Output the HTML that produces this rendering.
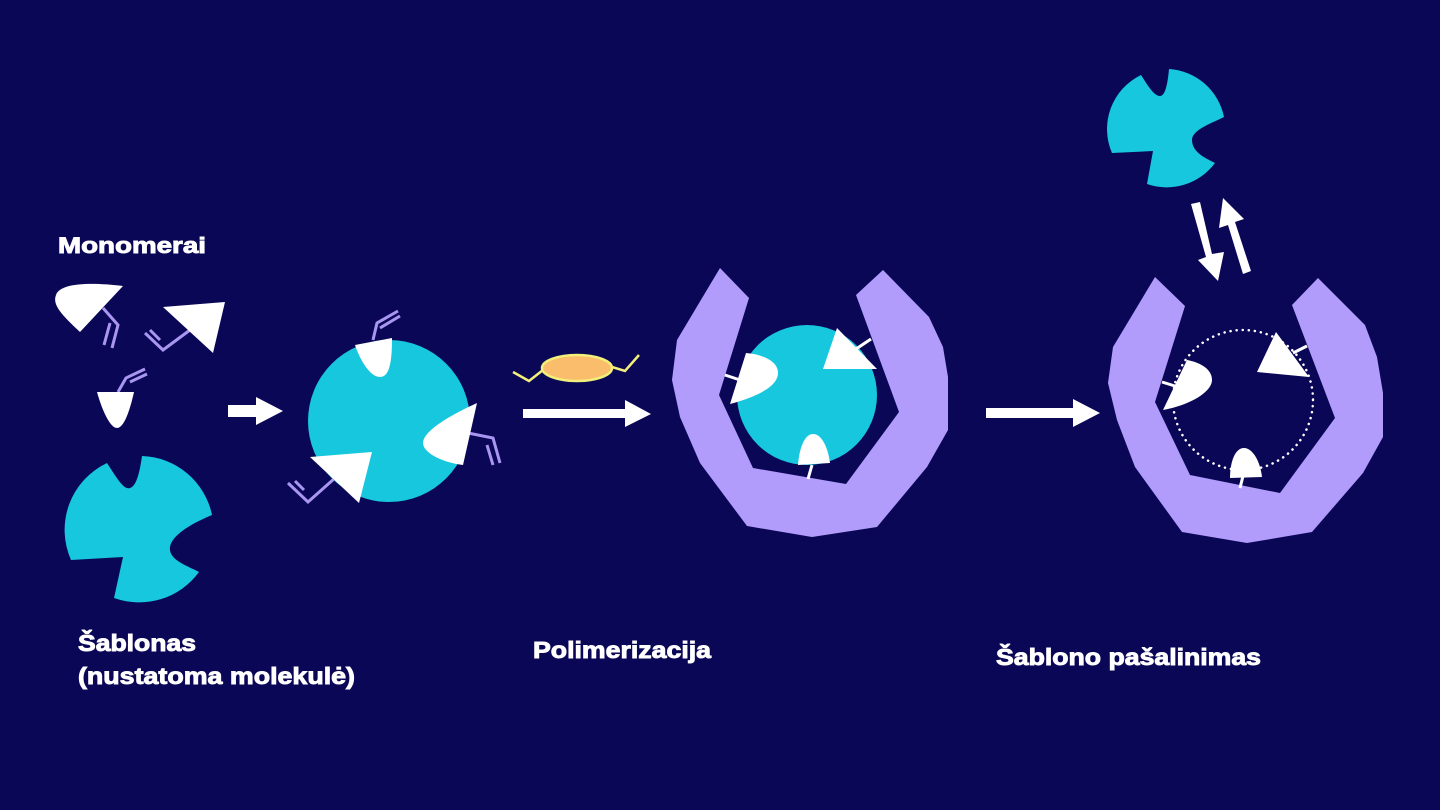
<!DOCTYPE html>
<html><head><meta charset="utf-8"><style>
html,body{margin:0;padding:0;background:#0b0757;}
svg{display:block}
text{font-family:"Liberation Sans",sans-serif;font-weight:bold;fill:#fff;stroke:#fff;stroke-width:0.9;}
</style></head><body>
<svg width="1440" height="810" viewBox="0 0 1440 810" xmlns="http://www.w3.org/2000/svg">
<rect width="1440" height="810" fill="#0b0757"/>

<!-- Labels -->
<text x="58" y="253" font-size="22" textLength="148" lengthAdjust="spacingAndGlyphs">Monomerai</text>
<text x="78" y="651" font-size="23" textLength="118" lengthAdjust="spacingAndGlyphs">Šablonas</text>
<text x="78" y="684" font-size="23" textLength="277" lengthAdjust="spacingAndGlyphs">(nustatoma molekulė)</text>
<text x="533" y="658" font-size="23" textLength="178" lengthAdjust="spacingAndGlyphs">Polimerizacija</text>
<text x="996" y="665" font-size="23" textLength="265" lengthAdjust="spacingAndGlyphs">Šablono pašalinimas</text>

<!-- Template 1 -->
<path d="M107,463 C118,480 124,490 130,488 C137,486 140,470 142,456 A74,74 0 0 1 212,515 C195,522 172,534 170,547 C168,560 188,566 199,572 A74,74 0 0 1 114,598 L123,557 L71,560 A74,74 0 0 1 107,463 Z" fill="#17c7de"/>

<!-- Monomers -->
<g fill="none" stroke="#a996f0" stroke-width="3">
<path d="M103,308 L118,325 L112,348 M110,323 L104,345"/>
<path d="M190,330 L163,350 L145,333 M160,340 L150,330"/>
<path d="M118,392 L126,378 L145,369 M130,382 L147,374"/>
</g>
<path d="M123,286 L80,332 C62,315 52,305 56,295 C60,283 90,282 123,286 Z" fill="#fff"/>
<path d="M163,307 L225,302 L213,353 Z" fill="#fff"/>
<path d="M97,392 L134,392 C130,410 124,428 117,428 C110,428 102,410 97,392 Z" fill="#fff"/>

<!-- Arrow 1 -->
<path d="M228,405 L256,405 L256,397 L283,411 L256,425 L256,417 L228,417 Z" fill="#fff"/>

<!-- Step 2 -->
<circle cx="389" cy="421" r="81" fill="#17c7de"/>
<g fill="none" stroke="#a996f0" stroke-width="3">
<path d="M373,340 L377,323 L398,311 M380,328 L400,316"/>
<path d="M468,433 L493,438 L500,463 M487,445 L493,465"/>
<path d="M335,478 L308,502 L288,483 M304,490 L295,481"/>
</g>
<path d="M355,345 L392,338 C392,360 390,377 380,377 C370,377 360,360 355,345 Z" fill="#fff"/>
<path d="M477,403 L463,465 C440,462 423,452 423,443 C423,430 455,413 477,403 Z" fill="#fff"/>
<path d="M310,457 L372,452 L359,503 Z" fill="#fff"/>

<!-- Oval + Arrow 2 -->
<path d="M513,372 L529,381 L543,370 M612,367 L625,371 L639,355" fill="none" stroke="#f2ef7a" stroke-width="2.5"/>
<ellipse cx="577" cy="368" rx="35" ry="13" fill="#f9bd6b" stroke="#f2ef7a" stroke-width="2.5"/>
<path d="M523,409 L625,409 L625,400 L651,414 L625,427 L625,418 L523,418 Z" fill="#fff"/>

<!-- Step 3 -->
<path d="M720,268 L749,298 L719,395 L753,468 L846,484 L899,412 L856,295 L883,270 L929,317 L943,347 L948,377 L948,430 L927,467 L877,527 L812,537 L747,526 L700,463 L680,417 L672,380 L677,340 Z" fill="#b19cfb"/>
<circle cx="807" cy="395" r="70" fill="#17c7de"/>
<g stroke="#fff" stroke-width="3">
<line x1="725" y1="375" x2="740" y2="380"/>
<line x1="871" y1="339" x2="856" y2="349"/>
<line x1="812" y1="465" x2="808" y2="479"/>
</g>
<path d="M746,353 L730,404 C752,398 778,388 778,373 C778,360 760,354 746,353 Z" fill="#fff"/>
<path d="M837,328 L823,369 L877,369 Z" fill="#fff"/>
<path d="M798,465 L830,463 C828,448 822,434 813,434 C804,434 799,450 798,465 Z" fill="#fff"/>

<!-- Arrow 3 -->
<path d="M986,408 L1073,408 L1073,399 L1100,413 L1073,427 L1073,418 L986,418 Z" fill="#fff"/>

<!-- Step 4 -->
<path d="M1155,277 L1185,306 L1155,402 L1190,475 L1280,493 L1335,418 L1292,305 L1318,278 L1365,325 L1377,357 L1383,393 L1383,437 L1363,473 L1312,532 L1247,543 L1182,532 L1135,467 L1117,420 L1108,383 L1113,347 Z" fill="#b19cfb"/>
<circle cx="1243" cy="400" r="70" fill="none" stroke="#fff" stroke-width="2.5" stroke-dasharray="0.1 6" stroke-linecap="round"/>
<g stroke="#fff" stroke-width="3">
<line x1="1162" y1="382" x2="1178" y2="387"/>
<line x1="1307" y1="346" x2="1293" y2="353"/>
<line x1="1243" y1="476" x2="1240" y2="488"/>
</g>
<path d="M1187,360 L1163,410 C1190,405 1212,392 1212,380 C1212,368 1198,362 1187,360 Z" fill="#fff"/>
<path d="M1276,332 L1257,372 L1309,377 Z" fill="#fff"/>
<path d="M1230,478 L1262,477 C1260,460 1252,448 1244,448 C1235,448 1230,462 1230,478 Z" fill="#fff"/>

<!-- Equilibrium arrows -->
<path d="M1191,204 L1200,202 L1212,254 L1224,252 L1218,281 L1198,260 L1206,257 Z" fill="#fff"/>
<path d="M1223,198 L1244,219 L1235,222 L1251,271 L1243,274 L1228,225 L1219,228 Z" fill="#fff"/>

<!-- Template 2 -->
<path d="M1141,75 C1148,86 1154,96 1160,96 C1166,96 1168,80 1169,69 A60,60 0 0 1 1224,117 C1210,124 1192,130 1192,140 C1192,152 1205,158 1215,163 A60,60 0 0 1 1147,184 L1153,151 L1112,153 A60,60 0 0 1 1141,75 Z" fill="#17c7de"/>
</svg>
</body></html>
